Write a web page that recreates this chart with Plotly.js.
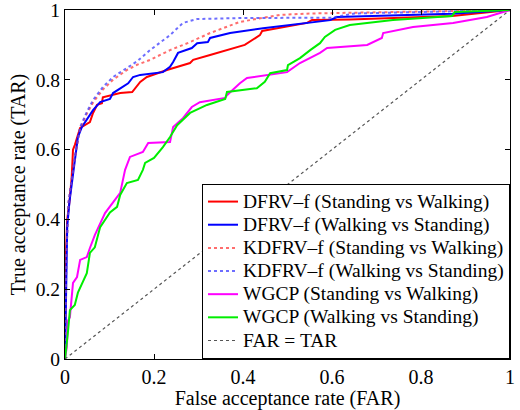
<!DOCTYPE html>
<html>
<head>
<meta charset="utf-8">
<script src="https://cdn.plot.ly/plotly-3.0.1.min.js"></script>
<style>html,body{margin:0;padding:0;background:#fff;}#chart{width:520px;height:410px;}</style>
</head>
<body>
<div id="chart"></div>
<script>
// DFRV-f (Standing vs Walking)
const dfrvSW_x = [0, 0.002, 0.005, 0.01, 0.015, 0.018, 0.022, 0.034, 0.056, 0.063, 0.072, 0.083, 0.085, 0.124, 0.151, 0.169, 0.184, 0.229, 0.281, 0.288, 0.326, 0.364, 0.404, 0.438, 0.443, 0.544, 0.555, 0.64, 0.87, 1];
const dfrvSW_y = [0, 0.3, 0.4, 0.45, 0.52, 0.6, 0.613, 0.662, 0.679, 0.705, 0.728, 0.733, 0.75, 0.762, 0.765, 0.794, 0.808, 0.828, 0.848, 0.857, 0.871, 0.885, 0.9, 0.928, 0.94, 0.963, 0.971, 0.973, 0.983, 1];
// DFRV-f (Walking vs Standing)
const dfrvWS_x = [0, 0.002, 0.005, 0.01, 0.018, 0.029, 0.038, 0.052, 0.063, 0.079, 0.101, 0.108, 0.13, 0.142, 0.153, 0.169, 0.22, 0.236, 0.243, 0.254, 0.285, 0.297, 0.321, 0.326, 0.371, 0.445, 0.596, 0.611, 0.87, 1];
const dfrvWS_y = [0, 0.2, 0.38, 0.45, 0.533, 0.636, 0.665, 0.69, 0.713, 0.736, 0.745, 0.762, 0.779, 0.79, 0.808, 0.814, 0.822, 0.837, 0.851, 0.877, 0.891, 0.905, 0.908, 0.92, 0.934, 0.948, 0.971, 0.98, 0.989, 1];
// KDFRV-f (Standing vs Walking)
const kdfrvSW_x = [0, 0.003, 0.008, 0.015, 0.022, 0.034, 0.049, 0.063, 0.085, 0.108, 0.139, 0.162, 0.191, 0.236, 0.281, 0.326, 0.371, 0.393, 0.483, 0.55, 1];
const kdfrvSW_y = [0, 0.3, 0.45, 0.52, 0.575, 0.66, 0.703, 0.735, 0.772, 0.8, 0.828, 0.843, 0.857, 0.885, 0.908, 0.934, 0.957, 0.966, 0.986, 0.99, 1];
// KDFRV-f (Walking vs Standing)
const kdfrvWS_x = [0, 0.003, 0.008, 0.015, 0.022, 0.034, 0.049, 0.063, 0.085, 0.108, 0.139, 0.162, 0.191, 0.236, 0.265, 0.297, 0.393, 0.6, 0.65, 1];
const kdfrvWS_y = [0, 0.3, 0.45, 0.52, 0.58, 0.665, 0.708, 0.742, 0.779, 0.808, 0.834, 0.853, 0.885, 0.928, 0.963, 0.974, 0.977, 0.978, 0.99, 1];
// WGCP (Standing vs Walking)
const wgcpSW_x = [0, 0.004, 0.007, 0.011, 0.018, 0.027, 0.034, 0.049, 0.056, 0.067, 0.09, 0.106, 0.124, 0.135, 0.146, 0.175, 0.187, 0.236, 0.243, 0.265, 0.285, 0.303, 0.36, 0.364, 0.393, 0.409, 0.454, 0.499, 0.528, 0.573, 0.589, 0.679, 0.712, 0.715, 0.782, 0.872, 0.948, 1];
const wgcpSW_y = [0, 0.035, 0.11, 0.12, 0.218, 0.235, 0.284, 0.292, 0.318, 0.355, 0.418, 0.447, 0.476, 0.542, 0.579, 0.593, 0.619, 0.622, 0.665, 0.69, 0.722, 0.736, 0.748, 0.756, 0.79, 0.805, 0.814, 0.822, 0.848, 0.877, 0.891, 0.9, 0.92, 0.934, 0.951, 0.963, 0.98, 1];
// WGCP (Walking vs Standing)
const wgcpWS_x = [0, 0.004, 0.007, 0.011, 0.022, 0.029, 0.049, 0.056, 0.067, 0.079, 0.101, 0.117, 0.124, 0.139, 0.164, 0.175, 0.18, 0.2, 0.22, 0.236, 0.252, 0.281, 0.319, 0.36, 0.364, 0.431, 0.449, 0.461, 0.499, 0.501, 0.528, 0.551, 0.573, 0.584, 0.607, 0.64, 0.737, 0.87, 0.876, 1];
const wgcpWS_y = [0, 0.04, 0.083, 0.14, 0.155, 0.19, 0.246, 0.304, 0.32, 0.378, 0.42, 0.436, 0.47, 0.504, 0.513, 0.542, 0.562, 0.576, 0.607, 0.636, 0.67, 0.705, 0.728, 0.745, 0.765, 0.776, 0.794, 0.819, 0.828, 0.842, 0.862, 0.885, 0.905, 0.923, 0.943, 0.957, 0.971, 0.983, 0.994, 1];
// FAR = TAR
const diag_x = [0, 1];
const diag_y = [0, 1];

const names = [
  'DFRV–f (Standing vs Walking)',
  'DFRV–f (Walking vs Standing)',
  'KDFRV–f (Standing vs Walking)',
  'KDFRV–f (Walking vs Standing)',
  'WGCP (Standing vs Walking)',
  'WGCP (Walking vs Standing)',
  'FAR = TAR'
];
const tickVals = [0, 0.2, 0.4, 0.6, 0.8, 1];
const tickText = ['0', '0.2', '0.4', '0.6', '0.8', '1'];

const series = [
  [dfrvSW_x, dfrvSW_y, '#ff0000', 'solid', 2],
  [dfrvWS_x, dfrvWS_y, '#0000ff', 'solid', 2],
  [kdfrvSW_x, kdfrvSW_y, 'rgba(255,60,60,0.75)', 'dot', 2],
  [kdfrvWS_x, kdfrvWS_y, 'rgba(60,60,255,0.75)', 'dot', 2],
  [wgcpSW_x, wgcpSW_y, '#ff00ff', 'solid', 2],
  [wgcpWS_x, wgcpWS_y, '#00ee00', 'solid', 2],
  [diag_x, diag_y, '#555555', 'dot', 1.2]
];

const traces = series.map((s, i) => ({
  x: s[0], y: s[1], type: 'scatter', mode: 'lines',
  name: '<span style="font-size:19.5px">' + names[i] + '</span>',
  line: {color: s[2], dash: s[3], width: s[4]}
}));

const serifFont = 'Liberation Serif';
const axisBase = {
  range: [0, 1], tickvals: tickVals, ticktext: tickText,
  ticks: 'inside', ticklen: 5, tickcolor: '#000', tickwidth: 1,
  showline: true, linecolor: '#000', linewidth: 1, mirror: 'ticks',
  showgrid: false, zeroline: false, ticklabeloverflow: 'allow',
  tickfont: {family: serifFont, size: 20, color: '#000'}
};

const layout = {
  width: 520, height: 410,
  margin: {l: 65, r: 10, t: 10, b: 51},
  xaxis: Object.assign({}, axisBase, {
    title: {text: 'False acceptance rate (FAR)', font: {family: serifFont, size: 20, color: '#000'}, standoff: 0}
  }),
  yaxis: Object.assign({}, axisBase, {
    tickfont: {family: serifFont, size: 19.5, color: '#000'},
    title: {text: 'True acceptance rate (TAR)', font: {family: serifFont, size: 20, color: '#000'}, standoff: 4}
  }),
  legend: {
    x: 1, y: 0, xanchor: 'right', yanchor: 'bottom',
    bgcolor: '#fff', bordercolor: '#000', borderwidth: 1,
    font: {family: serifFont, size: 15.5, color: '#000'},
    itemwidth: 30
  },
  showlegend: true
};

Plotly.newPlot('chart', traces, layout, {displayModeBar: false, staticPlot: true});
</script>
</body>
</html>
